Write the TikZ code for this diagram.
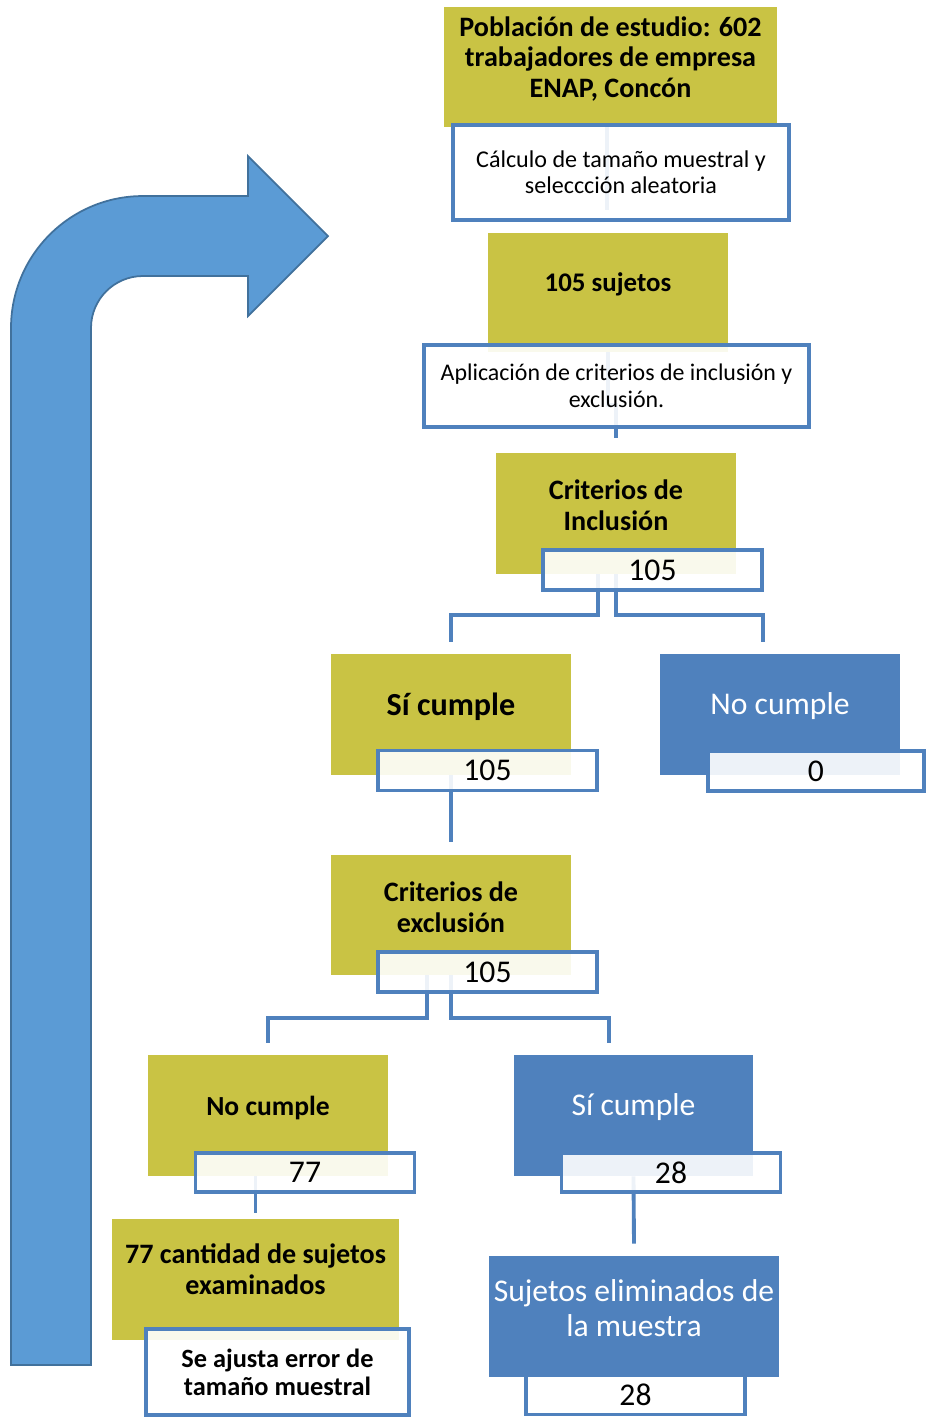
\documentclass[tikz,border=0pt]{standalone}
\usepackage{fontspec}
\setmainfont{Carlito}
\usetikzlibrary{backgrounds}

\definecolor{oliveg}{RGB}{201,195,68}
\definecolor{boxblue}{RGB}{79,129,189}
\definecolor{arrowfill}{RGB}{91,155,213}
\definecolor{arrowline}{RGB}{65,113,156}

\tikzset{
    olivebox/.style={rectangle,fill=oliveg,inner sep=0pt,minimum width=4.8cm,minimum height=2.42cm},
    bluebox/.style={rectangle,fill=boxblue,inner sep=0pt,minimum width=4.8cm,minimum height=2.42cm},
    numbox/.style={rectangle,draw=boxblue,line width=2.2pt,fill=white,fill opacity=0.9,text opacity=1,
        inner sep=0pt,minimum width=4.38cm,minimum height=0.8cm,font=\fontsize{18}{20}\selectfont},
    textbox/.style={rectangle,draw=boxblue,line width=2.2pt,fill=white,fill opacity=0.9,text opacity=1,
        inner sep=0pt,align=center},
    boldtext/.style={font=\bfseries\fontsize{16}{17.6}\selectfont,align=center,yshift=0.16cm},
    whitetext/.style={font=\fontsize{18}{20}\selectfont,text=white,align=center,yshift=0.16cm},
    link/.style={draw=boxblue,line width=2.2pt}
}

\begin{document}
\begin{tikzpicture}[x=0.02cm,y=-0.02cm]
    \useasboundingbox (0,0) rectangle (926,1418);

    % Return arrow
    \draw[fill=arrowfill,draw=arrowline,line width=1pt] (11,1365) -- (11,328)
    arc[start angle=180,end angle=90,radius=2.64cm] -- (248,196) -- (248,156)
    -- (328,236) -- (248,316) -- (248,276) -- (143,276)
    arc[start angle=90,end angle=180,radius=1.04cm] -- (91,1365) -- cycle;

    % Population and sample
    \node at (610.5,67) [olivebox,minimum width=6.66cm,minimum height=2.4cm,
    label={[boldtext]center:{Población de estudio: 602\\trabajadores de empresa\\ENAP, Concón}}] (pobl) {};
    \node at (621,172.5) [textbox,minimum width=6.72cm,minimum height=1.9cm,
    font=\fontsize{13.7}{14.8}\selectfont] (calc) {Cálculo de tamaño muestral y\\selecc­ción aleatoria};
    \node at (608,292.5) [olivebox,minimum height=2.38cm,
    label={[boldtext,font=\bfseries\fontsize{15.3}{17.6}\selectfont]center:{105 sujetos}}] (suj) {};
    \node at (616.5,386) [textbox,minimum width=7.7cm,minimum height=1.64cm,
    font=\fontsize{13.6}{15.4}\selectfont] (aplic) {Aplicación de criterios de inclusión y\\exclusión.};

    % Inclusion criteria
    \node at (616,513.5) [olivebox,
    label={[boldtext]center:{Criterios de\\Inclusión}}] (crinc) {};
    \node at (652.5,570) [numbox] (crincn) {105};
    \node at (451,714.5) [olivebox,
    label={[boldtext,font=\bfseries\fontsize{18.3}{20}\selectfont]center:{Sí cumple}}] (sic) {};
    \node at (487.5,770.5) [numbox] (sicn) {105};
    \node at (780,714.5) [bluebox,
    label={[whitetext]center:{No cumple}}] (noc) {};
    \node at (816,771) [numbox,minimum width=4.32cm] (nocn) {0};

    % Exclusion criteria
    \node at (451,915) [olivebox,minimum height=2.4cm,
    label={[boldtext]center:{Criterios de\\exclusión}}] (crex) {};
    \node at (487.5,972) [numbox] (crexn) {105};
    \node at (268,1115.5) [olivebox,
    label={[boldtext,font=\bfseries\fontsize{15.7}{18}\selectfont]center:{No cumple}}] (noc2) {};
    \node at (305,1172.5) [numbox,minimum height=0.78cm] (noc2n) {77};
    \node at (633.5,1115.5) [bluebox,minimum width=4.78cm,
    label={[whitetext]center:{Sí cumple}}] (sic2) {};
    \node at (671,1172.5) [numbox,minimum height=0.78cm] (sic2n) {28};

    % Final boxes
    \node at (255.5,1279.5) [olivebox,minimum width=5.74cm,
    label={[boldtext,yshift=0.04cm]center:{77 cantidad de sujetos\\examinados}}] (cant) {};
    \node at (277.5,1372) [textbox,minimum width=5.26cm,minimum height=1.72cm,
    font=\bfseries\fontsize{15}{16}\selectfont] (ajus) {Se ajusta error de\\tamaño muestral};
    \node at (634,1316.5) [bluebox,minimum width=5.8cm,
    label={[whitetext,font=\fontsize{18}{20}\selectfont]center:{Sujetos eliminados de\\la muestra}}] (elim) {};
    \node at (635.5,1395) [numbox,minimum height=0.78cm] (elimn) {28};

    % Connectors
    \begin{pgfonlayer}{background}
    \draw[link] ([xshift=-0.07cm]pobl.south) -- ++(0,83);
    \draw[link] (suj.south) -- ++(0,53) -| ([yshift=0.3cm]crinc.north);
    \draw[link] ([xshift=-0.36cm]crinc.south) -- ++(0,41) -| ([yshift=0.24cm]sic.north);
    \draw[link] (crinc.south) -- ++(0,41) -| ([xshift=-0.34cm,yshift=0.24cm]noc.north);
    \draw[link] (sic.south) -- ([yshift=0.26cm]crex.north);
    \draw[link] ([xshift=-0.48cm]crex.south) -- ++(0,43) -| ([yshift=0.24cm]noc2.north);
    \draw[link] (crex.south) -- ++(0,43) -| ([xshift=-0.49cm,yshift=0.24cm]sic2.north);
    \draw[link] (noc2.south -| cant.north) -- ([yshift=0.12cm]cant.north);
    \draw[link] (sic2.south) -- ([yshift=0.24cm]elim.north);
    \end{pgfonlayer}
\end{tikzpicture}
\end{document}
